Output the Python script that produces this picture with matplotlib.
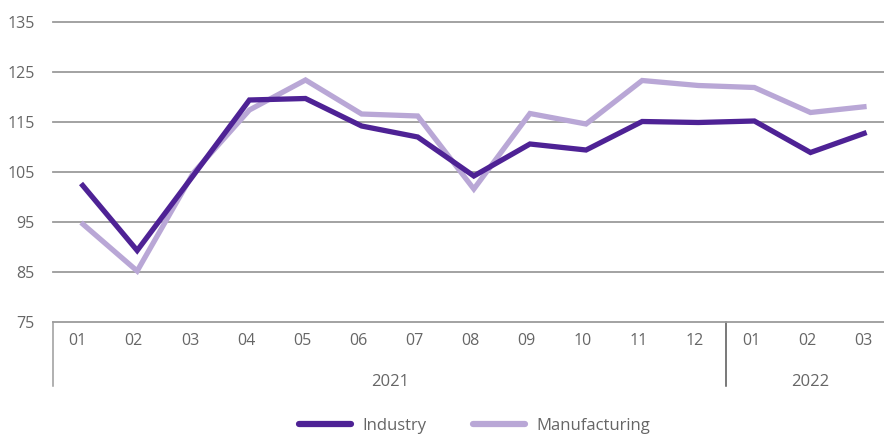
import matplotlib
matplotlib.use("Agg")
import matplotlib.pyplot as plt
import matplotlib.transforms as mtransforms
from matplotlib.lines import Line2D

months = ["01", "02", "03", "04", "05", "06", "07", "08", "09", "10", "11", "12", "01", "02", "03"]
years = ["2021", "2022"]
year_counts = [12, 3]
industry = [102.7, 89.3, 104.3, 119.4, 119.7, 114.2, 112.0, 104.2, 110.6, 109.4, 115.1, 114.9, 115.2, 108.9, 112.9]
manufacturing = [94.9, 85.2, 104.8, 117.4, 123.4, 116.6, 116.2, 101.6, 116.7, 114.6, 123.3, 122.3, 121.9, 116.9, 118.1]
yticks = [75, 85, 95, 105, 115, 125, 135]

c_ind = "#4E2295"
c_man = "#B9A7D6"
grid_c = "#9B9B9B"
text_c = "#666666"

plt.rcParams['font.family'] = ['Open Sans', 'DejaVu Sans']

W, H = 884, 436
fig = plt.figure(figsize=(W / 100, H / 100), dpi=100)
ax = fig.add_axes([53 / W, (H - 322) / H, 831 / W, 300 / H])

x = list(range(len(months)))
ax.plot(x, manufacturing, color=c_man, lw=3.8, solid_capstyle='butt', solid_joinstyle='miter', zorder=3)
ax.plot(x, industry, color=c_ind, lw=3.8, solid_capstyle='butt', solid_joinstyle='miter', zorder=4)

ax.set_ylim(75, 135)
ax.set_xlim(-0.5, 14.31)
ax.set_yticks(yticks)
ax.set_yticklabels([str(v) for v in yticks])
ax.tick_params(axis='y', length=0, pad=13, labelsize=11.5, labelcolor=text_c)
ax.set_xticks([])
for v in yticks[1:]:
    ax.axhline(v, color=grid_c, lw=1.3, zorder=1, clip_on=False)

for s in ['top', 'right', 'left']:
    ax.spines[s].set_visible(False)
ax.spines['bottom'].set_color(grid_c)
ax.spines['bottom'].set_linewidth(1.3)

trans = mtransforms.blended_transform_factory(ax.transData, ax.transAxes)
for i, m in enumerate(months):
    ax.text(i - 0.06, -19 / 300, m, transform=trans, ha='center', va='center',
            fontsize=11.5, color=text_c)

# group separators and year labels
start = -0.5
for k, (yr, cnt) in enumerate(zip(years, year_counts)):
    end = start + cnt
    col = grid_c if k == 0 else "#555555"
    ax.plot([start, start], [0, -64 / 300], transform=trans, color=col, lw=1.1, clip_on=False)
    ax.text((start + end) / 2, -60 / 300, yr, transform=trans, ha='center', va='center',
            fontsize=12, color=text_c)
    start = end

handles = [Line2D([0], [0], color=c_ind, lw=4.5, solid_capstyle='round'),
           Line2D([0], [0], color=c_man, lw=4.5, solid_capstyle='round')]
fig.legend(handles, ["Industry", "Manufacturing"], loc='center', bbox_to_anchor=(0.537, 10 / H),
           ncol=2, frameon=False, fontsize=12, labelcolor=text_c, handlelength=3.1,
           columnspacing=2.8, handletextpad=0.7, borderpad=0.2)

fig.savefig("out.png", dpi=100)
